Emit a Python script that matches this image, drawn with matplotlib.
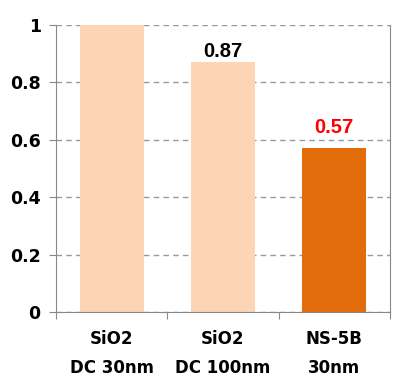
import matplotlib.pyplot as plt

categories = ['SiO2\nDC 30nm', 'SiO2\nDC 100nm', 'NS-5B\n30nm']
values = [1.0, 0.87, 0.57]
value_labels = [None, '0.87', '0.57']
label_offsets = [0, 0.003, 0.04]
colors = ['#FBD5B5', '#FBD5B5', '#E36C0A']
label_colors = ['black', 'black', '#FF0000']

fig = plt.figure(figsize=(4, 3.82), dpi=100)
ax = fig.add_axes([0.14, 0.183, 0.835, 0.752])

x = range(len(categories))
ax.bar(x, values, width=0.575, color=colors, zorder=2)

for i, (v, t) in enumerate(zip(values, value_labels)):
    if t:
        ax.text(i, v + label_offsets[i], t, ha='center', va='bottom', fontsize=14.5,
                fontweight='bold', color=label_colors[i], family='Liberation Sans')

ax.set_xlim(-0.5, 2.5)
ax.set_ylim(0, 1)
ax.set_yticks([0, 0.2, 0.4, 0.6, 0.8, 1])
ax.set_yticklabels(['0', '0.2', '0.4', '0.6', '0.8', '1'], fontsize=12.5, fontweight='bold')
ax.yaxis.grid(True, linestyle=(0, (4, 3)), color='#999999', linewidth=1, zorder=0)
ax.set_axisbelow(True)

ax.set_xticks([-0.5, 0.5, 1.5, 2.5])
ax.set_xticklabels([])
ax.set_xticks(list(x), minor=True)
ax.set_xticklabels(categories, minor=True, fontsize=12, fontweight='bold', linespacing=1.75)
ax.tick_params(axis='x', which='minor', length=0, pad=13)
ax.tick_params(axis='x', which='major', length=5, color='#888888')
ax.tick_params(axis='y', length=5, color='#888888', pad=6)

ax.spines['top'].set_visible(False)
for s in ['left', 'right', 'bottom']:
    ax.spines[s].set_color('#888888')

fig.savefig('out.png', dpi=100)
